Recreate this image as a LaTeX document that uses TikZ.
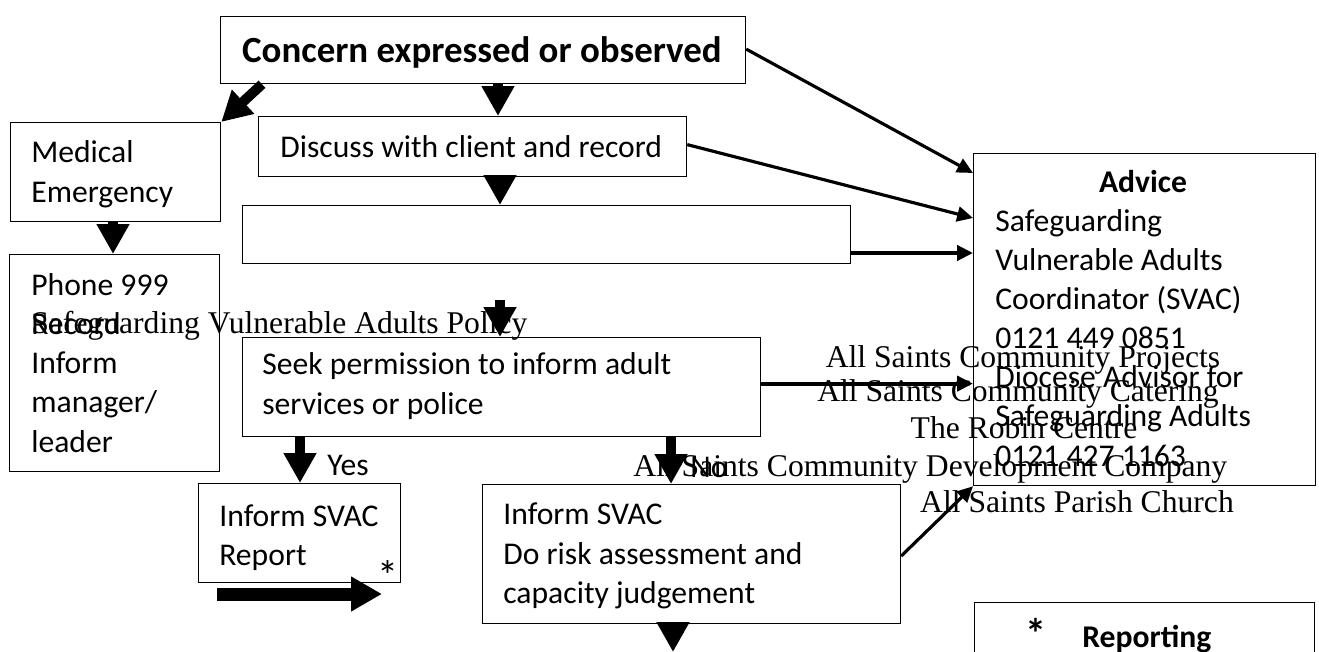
\documentclass[tikz,border=0pt]{standalone}
\usepackage{fontspec}
\setmainfont{Carlito}
\newfontfamily\timesfont{Liberation Serif}
\usepackage{tikz}
\usetikzlibrary{positioning, arrows.meta}

\newlength\pxu
\setlength\pxu{0.02cm}

\tikzset{
    box/.style={draw, line width=0.7pt, anchor=north west, inner sep=0pt},
    txt/.style={anchor=base west, inner sep=0pt, align=left,
        font=\fontsize{18pt}{22.2pt}\selectfont},
    serif/.style={anchor=base, inner sep=0pt,
        font=\timesfont\fontsize{18pt}{20pt}\selectfont},
    blockarrow/.style={line width=5.7pt, -{Triangle[length=17pt, width=17.6pt]}},
    bigarrow/.style={line width=7.4pt, -{Triangle[length=17.6pt, width=18.7pt]}},
    thinarrow/.style={line width=1.8pt, -{Triangle[length=9pt, width=8.5pt]}}
}

\begin{document}
\begin{tikzpicture}[x=\pxu, y=-\pxu]

    \useasboundingbox (0,0) rectangle (1319,652);
    \clip (0,0) rectangle (1319,652);

    \node[box, minimum width=525\pxu, minimum height=67\pxu] (concern) at (220,16) {};
    \node[box, minimum width=210\pxu, minimum height=99\pxu] (medical) at (10,122) {};
    \node[box, minimum width=210\pxu, minimum height=217\pxu] (phone) at (9,254) {};
    \node[box, minimum width=428\pxu, minimum height=60\pxu] (discuss) at (258,116) {};
    \node[box, minimum width=608\pxu, minimum height=58\pxu] (blank) at (242,205) {};
    \node[box, minimum width=518\pxu, minimum height=99\pxu] (seek) at (242,337) {};
    \node[box, minimum width=202\pxu, minimum height=99\pxu] (report) at (198,483) {};
    \node[box, minimum width=418\pxu, minimum height=139\pxu] (assess) at (482,484) {};
    \node[box, minimum width=342\pxu, minimum height=332\pxu] (advice) at (973,153) {};
    \node[box, minimum width=340\pxu, minimum height=120\pxu] (reporting) at (974,602) {};

    % multi-line texts sit on the baseline of their last line
    \node[txt, anchor=base, font=\bfseries\fontsize{21pt}{25pt}\selectfont] (concern-t) at (482,63) {Concern expressed or observed};
    \node[txt] (medical-t) at (31,202) {Medical\\Emergency};
    \node[txt] (phone-t) at (31,452) {Phone 999\\Record\\Inform\\manager/\\leader};
    \node[txt] (discuss-t) at (280,157) {Discuss with client and record};
    \node[txt] (seek-t) at (262,414) {Seek permission to inform adult\\services or police};
    \node[txt] (report-t) at (219,565) {Inform SVAC\\Report};
    \node[txt, anchor=base, font=\fontsize{24pt}{26pt}\selectfont] (report-star) at (388,590) {*};
    \node[txt] (assess-t) at (503,603) {Inform SVAC\\Do risk assessment and\\capacity judgement};
    \node[txt, anchor=base, font=\bfseries\fontsize{18pt}{22pt}\selectfont] (advice-h) at (1143,193) {Advice};
    \node[txt] (advice-t) at (995,466) {Safeguarding\\Vulnerable Adults\\Coordinator (SVAC)\\0121 449 0851\\Diocese Advisor for\\Safeguarding Adults\\0121 427 1163};
    \node[txt, anchor=base, font=\bfseries\fontsize{24pt}{26pt}\selectfont] (reporting-star) at (1036,648) {*};
    \node[txt, font=\bfseries\fontsize{18pt}{22pt}\selectfont] (reporting-t) at (1082,647) {Reporting};
    \node[txt] (yes) at (327,475) {Yes};
    \node[txt] (no) at (690,477) {No};

    \node[serif, anchor=base west] (policy) at (31,333) {Safeguarding Vulnerable Adults Policy};
    \node[serif] (projects) at (1023,367) {All Saints Community Projects};
    \node[serif] (catering) at (1018,401) {All Saints Community Catering};
    \node[serif] (robin) at (1024,438) {The Robin Centre};
    \node[serif, anchor=base west] (development) at (633,476) {All Saints Community Development Company};
    \node[serif] (church) at (1077,512) {All Saints Parish Church};

    \coordinate (x-medical) at (113,0);
    \coordinate (x-discuss) at (498,0);
    \coordinate (x-blank) at (500,0);
    \coordinate (x-yes) at (300,0);
    \coordinate (x-no) at (671,0);
    \coordinate (x-out) at (673,0);
    \coordinate (out) at (673,652);
    \coordinate (star-tail) at (217,594);
    \coordinate (star-tip) at (382,594);
    \coordinate (advice-a) at (973,173);
    \coordinate (advice-b) at (973,218);
    \coordinate (advice-c) at (973,253);

    \draw[blockarrow] ([xshift=42\pxu]concern.south west) -- (medical.north east);
    \draw[blockarrow] (concern.south -| x-discuss) -- (discuss.north -| x-discuss);
    \draw[blockarrow] (discuss.south -| x-blank) -- (blank.north -| x-blank);
    \draw[blockarrow] (medical.south -| x-medical) -- (phone.north -| x-medical);
    \draw[blockarrow] ([yshift=37\pxu]seek.north -| x-blank) -- (seek.north -| x-blank);
    \draw[blockarrow] (seek.south -| x-yes) -- (report.north -| x-yes);
    \draw[blockarrow] (seek.south -| x-no) -- (assess.north -| x-no);
    \draw[blockarrow] (assess.south -| x-out) -- (out);
    \draw[bigarrow] (star-tail) -- (star-tip);

    \draw[thinarrow] ([yshift=1\pxu]concern.east) -- (advice-a);
    \draw[thinarrow] ([yshift=2\pxu]discuss.east) -- (advice-b);
    \draw[thinarrow, line width=2.2pt] (blank.east |- advice-c) -- (advice-c);
    \draw[thinarrow, line width=2.2pt] ([yshift=3.5\pxu]seek.east) -- ([yshift=3.5\pxu]seek.east -| advice.west);
    \draw[thinarrow] ([yshift=-72\pxu]assess.north east) -- (advice.south west);

\end{tikzpicture}
\end{document}
